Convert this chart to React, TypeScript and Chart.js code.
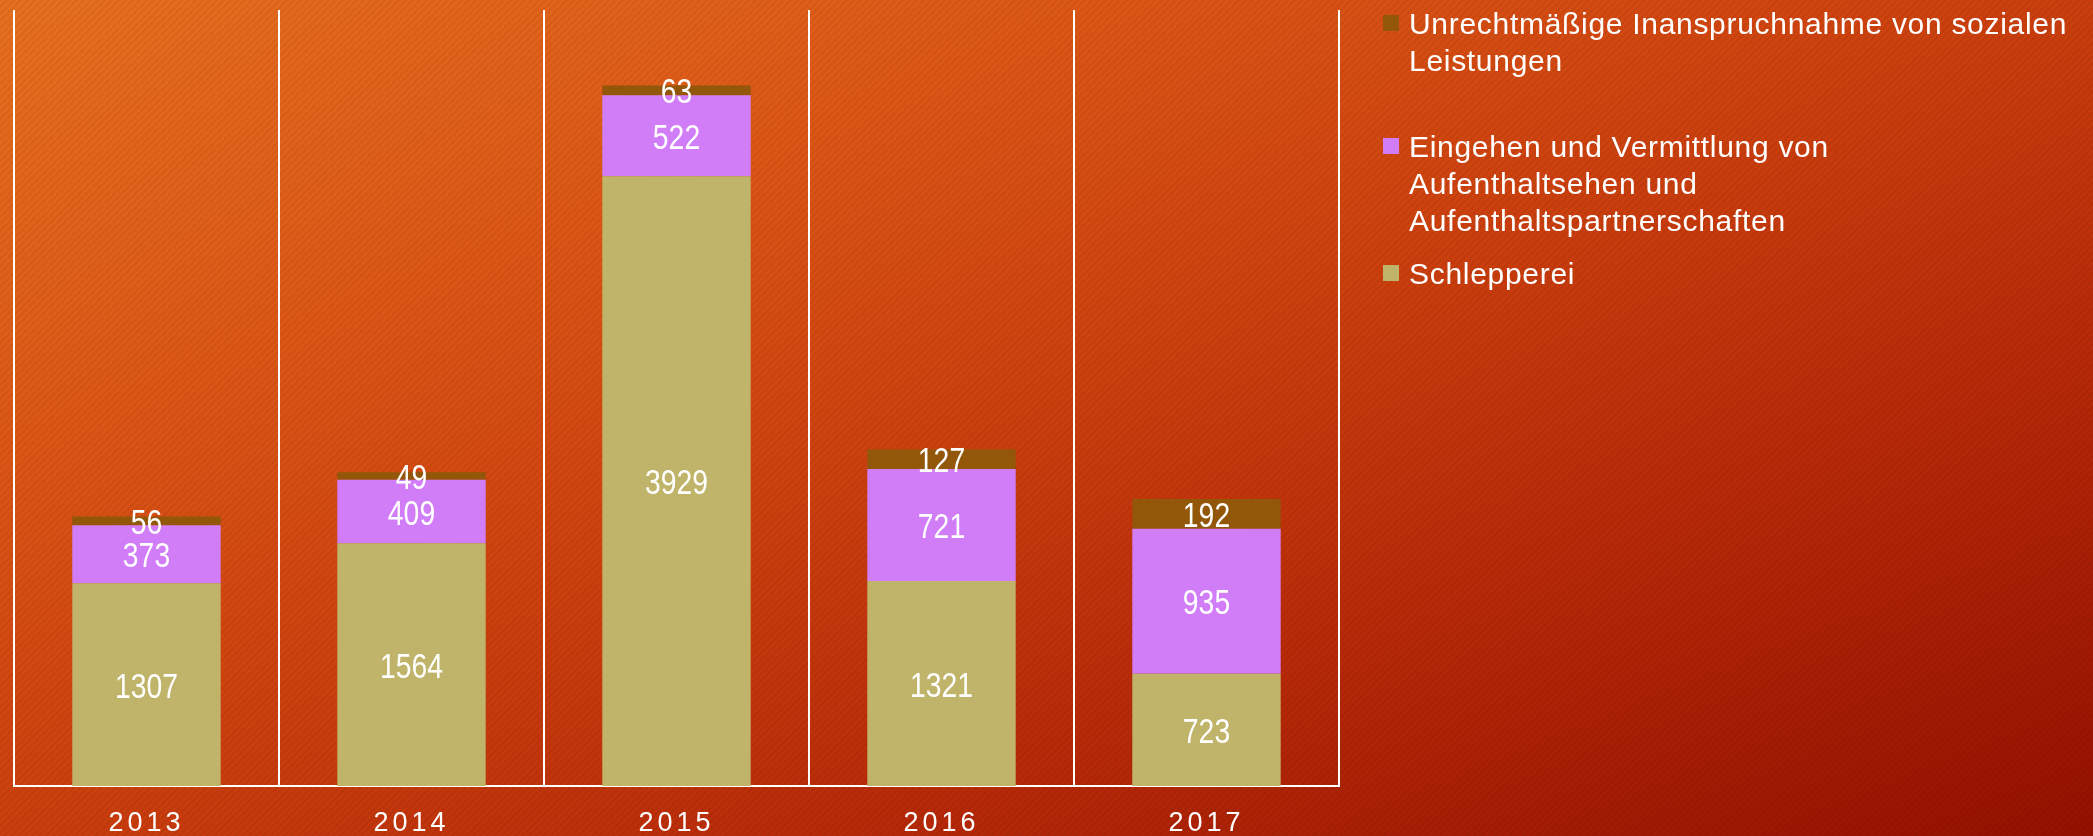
import React, { useEffect, useRef } from 'react';
import { Chart, registerables } from 'chart.js';

Chart.register(...registerables);

// ---- data ----
const years = ['2013', '2014', '2015', '2016', '2017'];
const schlepperei = [1307, 1564, 3929, 1321, 723];
const aufenthaltsehen = [373, 409, 522, 721, 935];
const sozialleistungen = [56, 49, 63, 127, 192];
const seriesNames = [
  'Schlepperei',
  'Eingehen und Vermittlung von\nAufenthaltsehen und\nAufenthaltspartnerschaften',
  'Unrechtmäßige Inanspruchnahme von sozialen\nLeistungen',
];
const seriesColors = ['#C0B46A', '#D17DF7', '#925709'];
const yMax = 5000;

// ---- layout / style ----
const W = 2093;
const H = 836;
const legendX = 1383;
const legendTextX = 1409;
const legendSquare = 16;
const legendFirstBaselines = [284, 157, 34]; // by dataset index
const legendLineHeight = 37;

const backgroundPlugin = {
  id: 'bg',
  beforeDraw(chart: any) {
    const ctx = chart.ctx as CanvasRenderingContext2D;
    const w = chart.width;
    const h = chart.height;
    ctx.save();
    const g = ctx.createLinearGradient(0, 0, 576, 1442);
    g.addColorStop(0, '#E8701F');
    g.addColorStop(0.24, '#DE5A17');
    g.addColorStop(0.45, '#D0440F');
    g.addColorStop(0.7, '#B82A08');
    g.addColorStop(1, '#951000');
    ctx.fillStyle = g;
    ctx.fillRect(0, 0, w, h);
    // subtle diagonal stripes
    const s = 7;
    const pc = document.createElement('canvas');
    pc.width = s;
    pc.height = s;
    const p = pc.getContext('2d')!;
    p.strokeStyle = 'rgba(0,0,0,0.06)';
    p.lineWidth = 2.5;
    p.beginPath();
    p.moveTo(-1, s + 1);
    p.lineTo(s + 1, -1);
    p.moveTo(-s - 1, s + 1);
    p.lineTo(1, -1);
    p.moveTo(s - 1, 2 * s + 1);
    p.lineTo(2 * s + 1, -1 + s);
    p.stroke();
    const pat = ctx.createPattern(pc, 'repeat');
    if (pat) {
      ctx.fillStyle = pat;
      ctx.fillRect(0, 0, w, h);
    }
    ctx.restore();
    (ctx as any).letterSpacing = '4px';
  },
  beforeDatasetsDraw(chart: any) {
    (chart.ctx as any).letterSpacing = '0px';
  },
  afterDatasetsDraw(chart: any) {
    const ctx = chart.ctx as CanvasRenderingContext2D;
    ctx.save();
    (ctx as any).letterSpacing = '0px';
    ctx.font = '35px "Liberation Sans", sans-serif';
    ctx.fillStyle = '#FFFFFF';
    ctx.textAlign = 'center';
    ctx.textBaseline = 'middle';
    chart.data.datasets.forEach((ds: any, i: number) => {
      const meta = chart.getDatasetMeta(i);
      meta.data.forEach((el: any, j: number) => {
        const props = el.getProps(['x', 'y', 'base'], true);
        ctx.save();
        ctx.translate(props.x, (props.y + props.base) / 2 + 3.5);
        ctx.scale(0.81, 1);
        ctx.fillText(String(ds.data[j]), 0, 0);
        ctx.restore();
      });
    });
    ctx.restore();
  },
  afterDraw(chart: any) {
    const ctx = chart.ctx as CanvasRenderingContext2D;
    ctx.save();
    (ctx as any).letterSpacing = '0.7px';
    ctx.font = '30px "Liberation Sans", sans-serif';
    ctx.textAlign = 'left';
    ctx.textBaseline = 'alphabetic';
    chart.data.datasets.forEach((ds: any, i: number) => {
      const base = legendFirstBaselines[i];
      ctx.fillStyle = ds.backgroundColor;
      ctx.fillRect(legendX, base - 19, legendSquare, legendSquare);
      ctx.fillStyle = '#FFFFFF';
      String(ds.label)
        .split('\n')
        .forEach((line: string, k: number) => {
          ctx.fillText(line, legendTextX, base + k * legendLineHeight);
        });
    });
    ctx.restore();
  },
};

export default function App() {
  const ref = useRef<HTMLCanvasElement | null>(null);
  useEffect(() => {
    if (!ref.current) return;
    const chart = new Chart(ref.current, {
      type: 'bar',
      data: {
        labels: years,
        datasets: [
          { label: seriesNames[0], data: schlepperei, backgroundColor: seriesColors[0] },
          { label: seriesNames[1], data: aufenthaltsehen, backgroundColor: seriesColors[1] },
          { label: seriesNames[2], data: sozialleistungen, backgroundColor: seriesColors[2] },
        ],
      },
      options: {
        responsive: false,
        animation: false,
        datasets: { bar: { categoryPercentage: 1, barPercentage: 0.56, borderWidth: 0 } },
        layout: { padding: { left: 14, right: W - 1339, top: 10, bottom: 0 } },
        plugins: { legend: { display: false }, tooltip: { enabled: false } },
        scales: {
          x: {
            stacked: true,
            offset: true,
            grid: { display: true, offset: true, color: '#FFFFFF', lineWidth: 2, drawTicks: false, tickLength: 0 },
            border: { display: true, color: '#FFFFFF', width: 2 },
            ticks: { color: '#FFFFFF', font: { family: 'Liberation Sans', size: 27 }, padding: 21 },
            afterFit: (scale: any) => {
              scale.height = 50;
            },
          },
          y: { stacked: true, display: false, min: 0, max: yMax },
        },
      },
      plugins: [backgroundPlugin],
    } as any);
    return () => chart.destroy();
  }, []);
  return (
    <div style={{ position: 'absolute', left: 0, top: 0, width: W, height: H }}>
      <canvas ref={ref} width={W} height={H} style={{ display: 'block', width: W, height: H }} />
    </div>
  );
}
